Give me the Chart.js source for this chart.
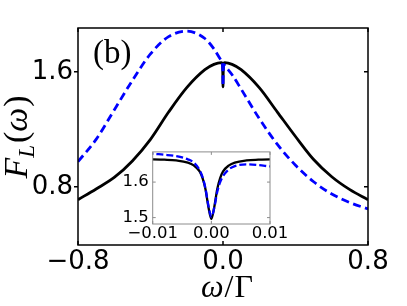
<!DOCTYPE html>
<html>
<head>
<meta charset="utf-8">
<script src="https://cdn.jsdelivr.net/npm/chart.js@4.4.1/dist/chart.umd.min.js"></script>
<style>
  html, body { margin: 0; padding: 0; background: #fff; }
  #wrap { position: relative; width: 407px; height: 306px; }
  #main { position: absolute; left: 0; top: 0; }
  #inset { position: absolute; left: 100px; top: 138px; }
</style>
</head>
<body>
<div id="wrap">
  <canvas id="main" width="407" height="306"></canvas>
  <canvas id="inset" width="190" height="106"></canvas>
</div>
<script>
// omega / Gamma
const omega = [-0.8, -0.7, -0.6, -0.5, -0.4, -0.3, -0.2, -0.1, -0.05,
    -0.01, -0.008, -0.006, -0.004, -0.003, -0.002, -0.0015, -0.001, -0.0005,
    0,
    0.0005, 0.001, 0.0015, 0.002, 0.003, 0.004, 0.006, 0.008, 0.01,
    0.05, 0.1, 0.2, 0.3, 0.4, 0.5, 0.6, 0.7, 0.8];

// F_L(omega), solid black curve
const fSolid = [0.71, 0.785, 0.865, 0.98, 1.13, 1.32, 1.49, 1.615, 1.652,
    1.664, 1.663, 1.661, 1.655, 1.647, 1.630, 1.611, 1.580, 1.530,
    1.496,
    1.530, 1.580, 1.611, 1.630, 1.647, 1.655, 1.661, 1.663, 1.664,
    1.652, 1.615, 1.49, 1.32, 1.15, 0.99, 0.87, 0.78, 0.71];

// F_L(omega), dashed blue curve
const fDashed = [0.975, 1.13, 1.335, 1.54, 1.725, 1.845, 1.883, 1.832, 1.76,
    1.680, 1.677, 1.673, 1.664, 1.655, 1.634, 1.614, 1.582, 1.534,
    1.502,
    1.528, 1.572, 1.600, 1.617, 1.636, 1.645, 1.650, 1.648, 1.644,
    1.58, 1.48, 1.275, 1.095, 0.95, 0.835, 0.75, 0.69, 0.646];

const mainXTicks = [-0.8, 0, 0.8];
const mainXLabels = ['\u22120.8', '0.0', '0.8'];
const mainYTicks = [0.8, 1.6];
const mainYLabels = ['0.8', '1.6'];

const insetXTicks = [-0.01, 0, 0.01];
const insetXLabels = ['\u22120.01', '0.00', '0.01'];
const insetYTicks = [1.5, 1.6];
const insetYLabels = ['1.5', '1.6'];

const pts = ys => omega.map((x, i) => ({ x, y: ys[i] }));

// frame + matplotlib-like tick marks
const framePlugin = {
    id: 'frame',
    beforeDatasetsDraw(chart, args, opts) {
        if (!opts.fill) return;
        const a = chart.chartArea;
        chart.ctx.save();
        chart.ctx.fillStyle = opts.fill;
        chart.ctx.fillRect(a.left, a.top, a.right - a.left, a.bottom - a.top);
        chart.ctx.restore();
    },
    afterDatasetsDraw(chart, args, opts) {
        const { ctx, chartArea: a, scales } = chart;
        ctx.save();
        ctx.strokeStyle = opts.color;
        ctx.lineWidth = opts.width;
        ctx.strokeRect(a.left, a.top, a.right - a.left, a.bottom - a.top);
        const len = opts.tick;
        ctx.beginPath();
        scales.x.ticks.forEach(t => {
            const px = scales.x.getPixelForValue(t.value);
            ctx.moveTo(px, a.bottom); ctx.lineTo(px, a.bottom - len);
            ctx.moveTo(px, a.top); ctx.lineTo(px, a.top + len);
        });
        scales.y.ticks.forEach(t => {
            const py = scales.y.getPixelForValue(t.value);
            ctx.moveTo(a.left - opts.leftOut, py); ctx.lineTo(a.left + opts.leftIn, py);
            ctx.moveTo(a.right, py); ctx.lineTo(a.right - len, py);
        });
        ctx.stroke();
        ctx.restore();
    },
};

// axis titles and panel label
const textPlugin = {
    id: 'texts',
    afterDraw(chart) {
        const ctx = chart.ctx;
        const serif = '"Liberation Serif", "DejaVu Serif", serif';
        ctx.save();
        ctx.fillStyle = '#000';
        ctx.textBaseline = 'alphabetic';
        ctx.textAlign = 'left';

        ctx.font = `33px ${serif}`;
        ctx.fillText('(b)', 93, 63);

        const drawRun = (parts, cx, cy) => {
            let w = 0;
            parts.forEach(p => { ctx.font = p.f; w += ctx.measureText(p.t).width + (p.gap || 0); });
            let x = cx - w / 2;
            parts.forEach(p => {
                ctx.font = p.f;
                ctx.fillText(p.t, x, cy + (p.dy || 0));
                x += ctx.measureText(p.t).width + (p.gap || 0);
            });
        };

        drawRun([
            { t: '\u03c9', f: `italic 32px ${serif}`, gap: 1 },
            { t: '/', f: `32px ${serif}`, gap: 1 },
            { t: '\u0393', f: `32px ${serif}` },
        ], 227, 297);

        ctx.translate(27, 137);
        ctx.rotate(-Math.PI / 2);
        drawRun([
            { t: 'F', f: `italic 34px ${serif}` },
            { t: 'L', f: `italic 23px ${serif}`, dy: 7, gap: 2 },
            { t: '(', f: `34px ${serif}` },
            { t: '\u03c9', f: `italic 34px ${serif}`, gap: 1 },
            { t: ')', f: `34px ${serif}` },
        ], 0, 0);
        ctx.restore();
    },
};

function fixedTicks(values) {
    return scale => { scale.ticks = values.map(value => ({ value })); };
}

function makeChart(el, cfg) {
    const sans = '"DejaVu Sans", sans-serif';
    return new Chart(el, {
        type: 'line',
        data: {
            datasets: [
                {
                    data: pts(fDashed),
                    borderColor: '#0000ff',
                    borderWidth: cfg.lw,
                    borderDash: cfg.dash,
                    pointRadius: 0,
                    fill: false,
                    cubicInterpolationMode: 'monotone',
                    order: 0,
                },
                {
                    data: pts(fSolid),
                    borderColor: '#000000',
                    borderWidth: cfg.lw,
                    pointRadius: 0,
                    fill: false,
                    cubicInterpolationMode: 'monotone',
                    order: 1,
                },
            ],
        },
        options: {
            responsive: false,
            animation: false,
            devicePixelRatio: 1,
            layout: { padding: cfg.padding },
            plugins: {
                legend: { display: false },
                tooltip: { enabled: false },
                frame: cfg.frame,
            },
            scales: {
                x: {
                    type: 'linear',
                    min: cfg.xMin,
                    max: cfg.xMax,
                    grid: { display: false, drawTicks: false },
                    border: { display: false },
                    afterBuildTicks: fixedTicks(cfg.xTicks),
                    afterFit: s => { s.height = cfg.xHeight; },
                    ticks: {
                        color: '#000',
                        padding: cfg.xPad,
                        maxRotation: 0,
                        autoSkip: false,
                        font: { family: sans, size: cfg.fontSize },
                        callback: v => cfg.xLabels[cfg.xTicks.indexOf(v)],
                    },
                },
                y: {
                    min: cfg.yMin,
                    max: cfg.yMax,
                    grid: { display: false, drawTicks: false },
                    border: { display: false },
                    afterBuildTicks: fixedTicks(cfg.yTicks),
                    afterFit: s => { s.width = cfg.yWidth; },
                    ticks: {
                        color: '#000',
                        padding: cfg.yPad,
                        autoSkip: false,
                        font: { family: sans, size: cfg.fontSize },
                        callback: v => cfg.yLabels[cfg.yTicks.indexOf(v)],
                    },
                },
            },
        },
        plugins: cfg.plugins,
    });
}

makeChart(document.getElementById('main'), {
    lw: 2.8, dash: [8, 4.5],
    padding: { left: 0, right: 39, top: 28, bottom: 0 },
    xMin: -0.8, xMax: 0.8, yMin: 0.395, yMax: 1.905,
    xTicks: mainXTicks, xLabels: mainXLabels,
    yTicks: mainYTicks, yLabels: mainYLabels,
    xHeight: 61, yWidth: 78, xPad: 2, yPad: 5, fontSize: 26,
    frame: { color: '#000', width: 1.5, tick: 4, leftOut: 4, leftIn: 0 },
    plugins: [framePlugin, textPlugin],
});

makeChart(document.getElementById('inset'), {
    lw: 2.3, dash: [7, 3],
    padding: { left: 0, right: 20, top: 5, bottom: 0 },
    xMin: -0.01, xMax: 0.01, yMin: 1.482, yMax: 1.685,
    xTicks: insetXTicks, xLabels: insetXLabels,
    yTicks: insetYTicks, yLabels: insetYLabels,
    xHeight: 20, yWidth: 52.7, xPad: 0, yPad: 4, fontSize: 16.5,
    frame: { color: '#8c8c8c', width: 1, tick: 3, leftOut: 0, leftIn: 3, fill: '#fff' },
    plugins: [framePlugin],
});
</script>
</body>
</html>
